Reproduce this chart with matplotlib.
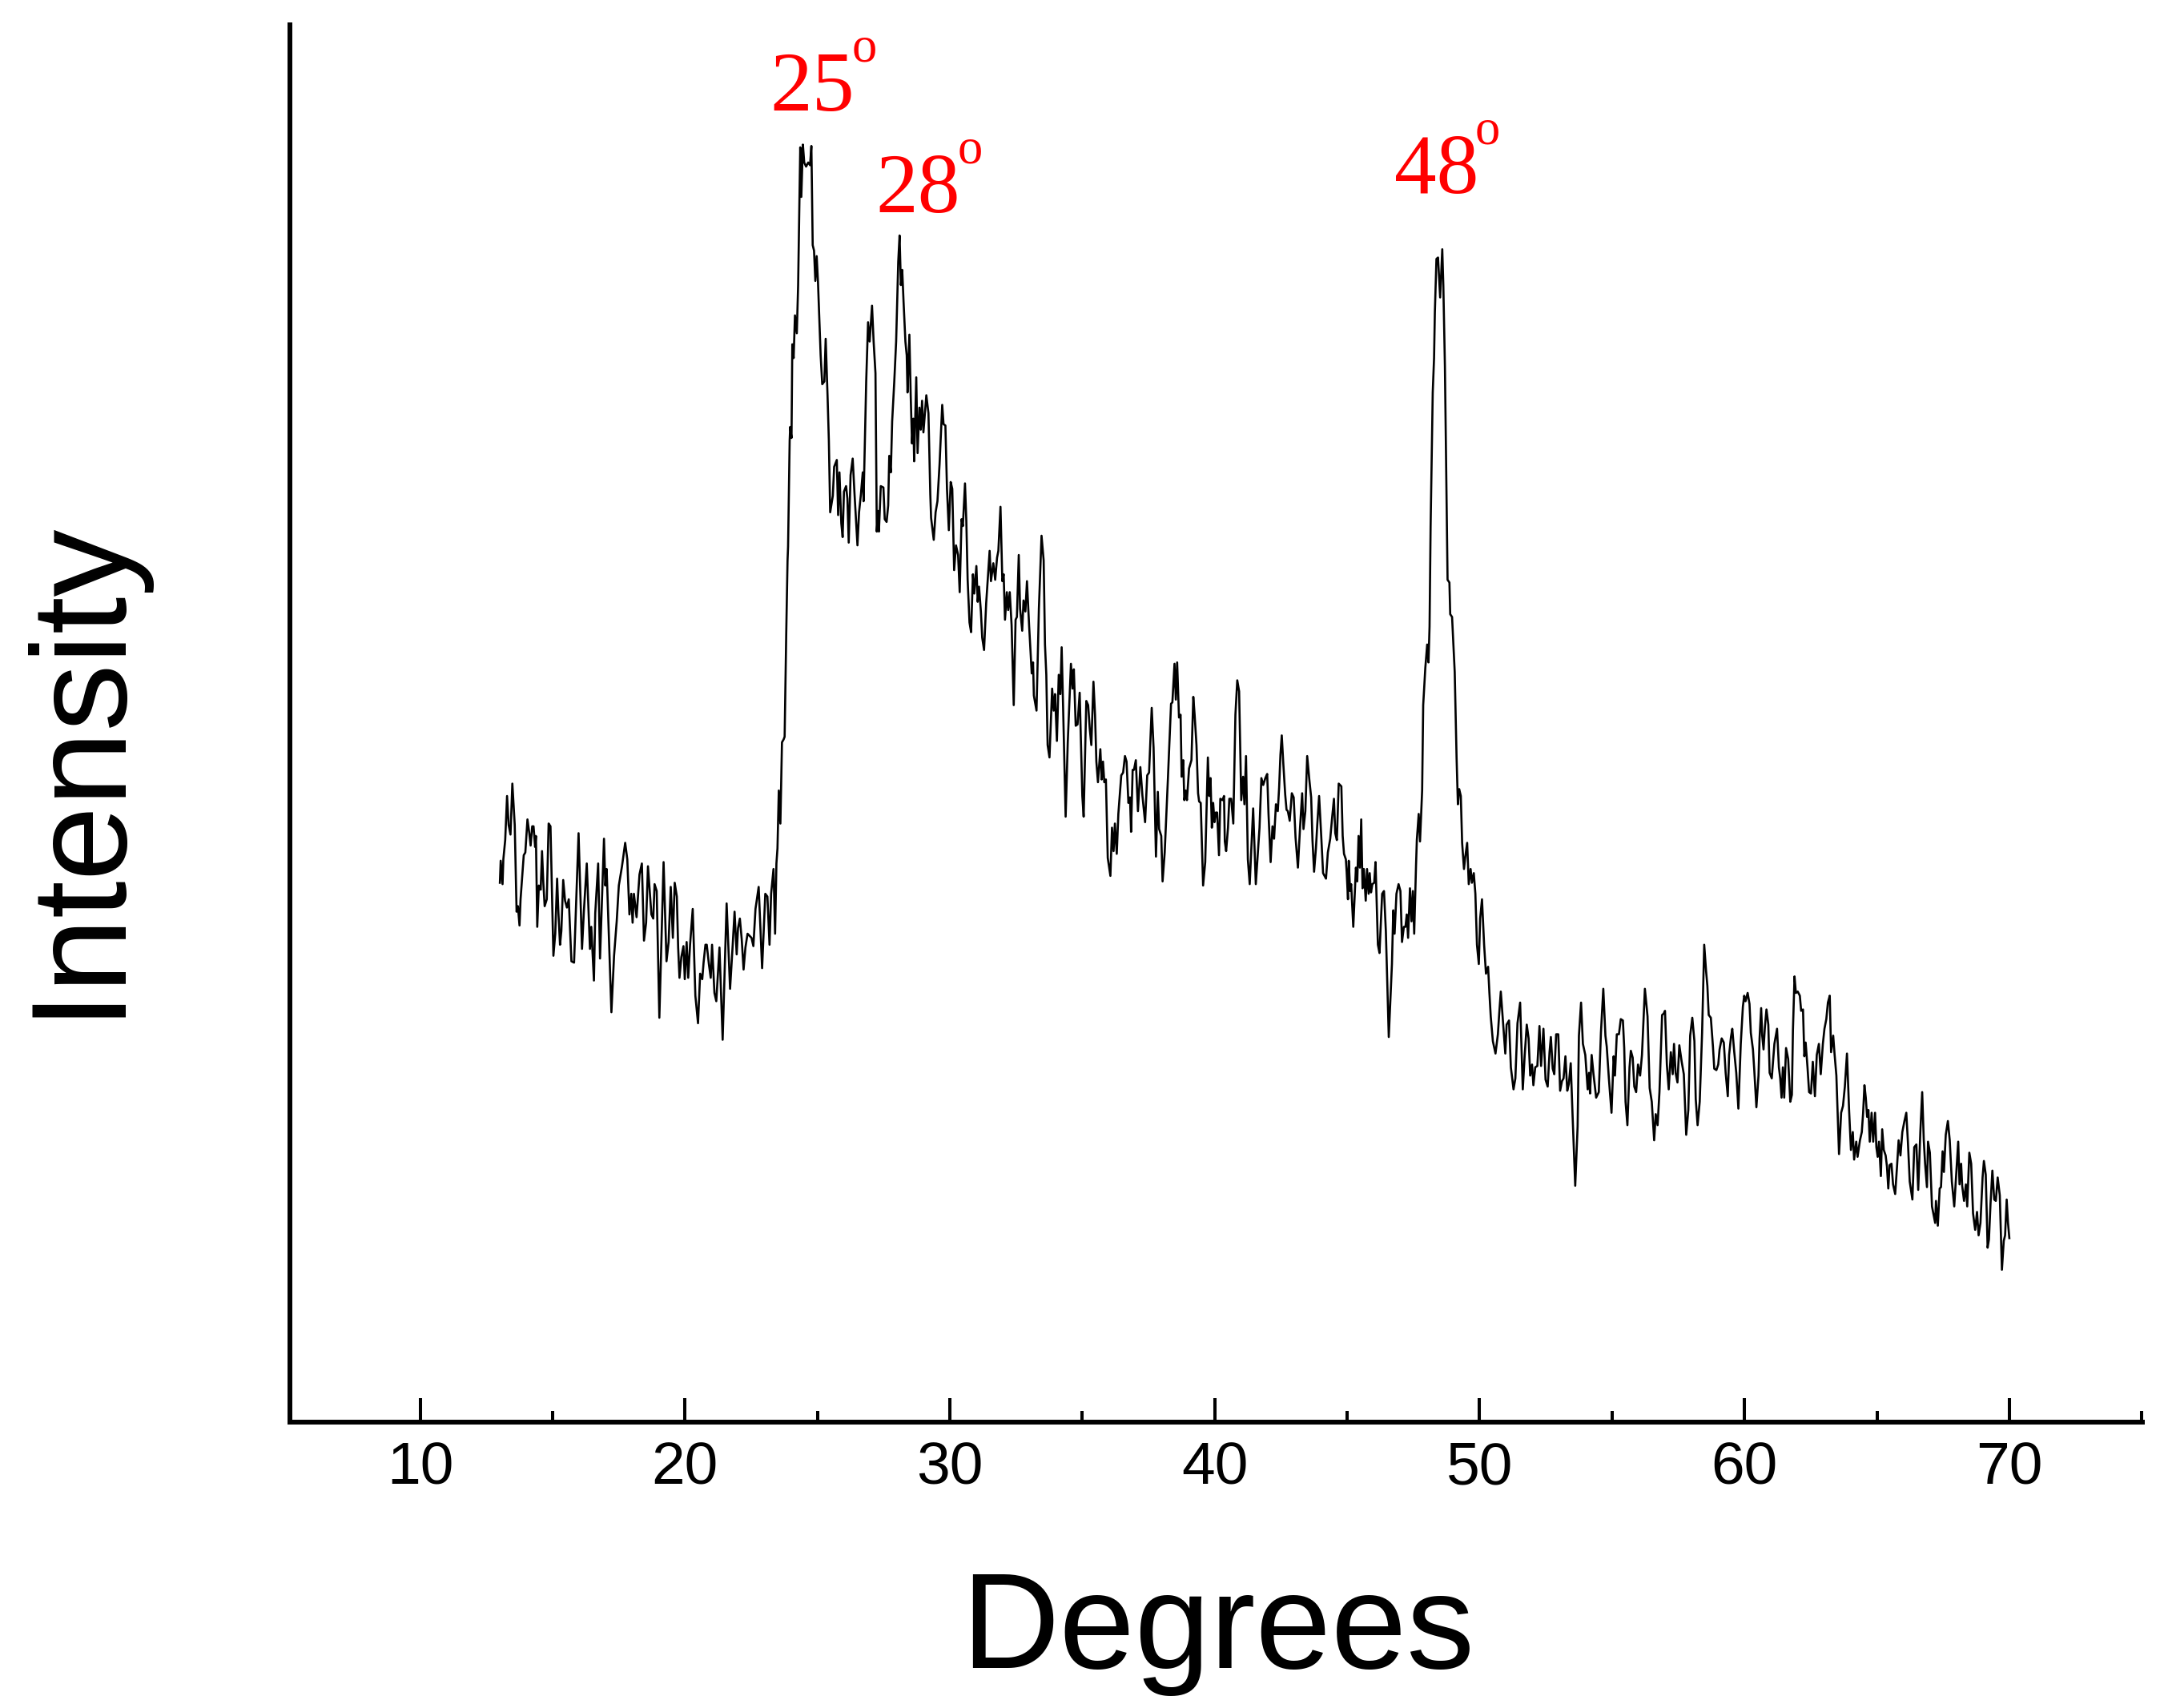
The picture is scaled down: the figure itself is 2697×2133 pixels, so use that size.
import matplotlib
matplotlib.use('Agg')
import matplotlib.pyplot as plt
from matplotlib.ticker import MultipleLocator
import numpy as np

# XRD trace, split into pieces (degrees, intensity in arb. units)
deg_a = [13.01, 13.04, 13.11, 13.14, 13.21, 13.28, 13.34, 13.41, 13.48, 13.57, 13.64, 13.69, 13.75, 13.79,
         13.91, 13.97, 14.05, 14.12, 14.17, 14.23, 14.28, 14.34, 14.37, 14.42, 14.48, 14.55, 14.60, 14.65,
         14.70, 14.78, 14.85, 14.92, 15.03, 15.10, 15.17, 15.22, 15.28, 15.33, 15.40, 15.47, 15.54, 15.61,
         15.71, 15.81, 15.98, 16.11, 16.18, 16.29, 16.36, 16.41, 16.46, 16.56, 16.61, 16.72, 16.79, 16.94,
         16.99, 17.04, 17.22, 17.32, 17.42, 17.50, 17.62, 17.74, 17.82, 17.90, 17.97, 18.02, 18.07, 18.17,
         18.28, 18.37, 18.45, 18.53, 18.60, 18.73, 18.80, 18.85, 18.93, 19.03, 19.19, 19.30, 19.38, 19.46,
         19.54, 19.61, 19.69, 19.74, 19.79, 19.86, 19.94, 19.99, 20.06, 20.12, 20.19, 20.29, 20.39, 20.49,
         20.57, 20.65, 20.70, 20.77, 20.82, 20.90, 20.97, 21.02, 21.11, 21.18, 21.30, 21.42, 21.57, 21.70,
         21.80, 21.87, 21.95, 22.00, 22.07, 22.14, 22.21, 22.28, 22.36, 22.51, 22.58, 22.66, 22.78, 22.91,
         23.03, 23.11, 23.19, 23.25, 23.34, 23.40, 23.45, 23.49, 23.54, 23.60, 23.66, 23.72]
int_a = [389, 405, 388, 406, 420, 452, 431, 424, 461, 431, 368, 372, 358, 377,
         409, 411, 435, 425, 416, 430, 430, 415, 423, 357, 387, 384, 412, 389,
         372, 377, 432, 430, 336, 352, 392, 367, 344, 354, 391, 376, 371, 377,
         332, 331, 425, 341, 368, 403, 367, 341, 357, 318, 367, 403, 334, 421,
         387, 399, 295, 336, 361, 387, 401, 418, 406, 366, 381, 360, 381, 364,
         395, 403, 347, 360, 401, 366, 363, 388, 383, 291, 404, 332, 346, 386,
         349, 389, 379, 342, 320, 335, 343, 319, 346, 320, 344, 370, 307, 287,
         323, 319, 331, 344, 344, 330, 320, 344, 309, 303, 342, 275, 374, 312,
         344, 368, 337, 356, 363, 348, 326, 342, 352, 349, 343, 370, 386, 327,
         381, 379, 344, 381, 399, 352, 403, 414, 456, 432, 491, 493]

deg_b = [23.76, 23.82, 23.87, 23.89, 23.95, 23.97, 24.02, 24.05, 24.10, 24.15, 24.22, 24.27, 24.35, 24.39,
         24.45, 24.50, 24.57, 24.65, 24.72, 24.77, 24.82, 24.87, 24.92, 24.97, 25.02, 25.12, 25.18, 25.26,
         25.31, 25.38, 25.43, 25.48, 25.58, 25.63, 25.73, 25.78, 25.83, 25.90, 25.95, 26.00, 26.08, 26.13,
         26.18, 26.25, 26.33, 26.40, 26.51, 26.57, 26.64, 26.71, 26.74, 26.84, 26.91, 26.97, 27.06, 27.12,
         27.19, 27.24, 27.29, 27.32, 27.39, 27.49, 27.54, 27.61, 27.67, 27.71, 27.77, 27.82, 27.90, 27.97,
         28.05, 28.10, 28.15, 28.20, 28.25, 28.32, 28.37, 28.40, 28.47, 28.52, 28.57, 28.62, 28.65, 28.73,
         28.78, 28.85, 28.90, 28.95, 29.00, 29.11, 29.19, 29.26, 29.29, 29.39, 29.46, 29.53, 29.61, 29.71,
         29.76, 29.83, 29.89, 29.96, 30.03, 30.09, 30.16, 30.23, 30.31, 30.37, 30.44, 30.49, 30.57, 30.62,
         30.67, 30.74, 30.80, 30.87, 30.92, 31.00, 31.05, 31.10, 31.17, 31.22, 31.29, 31.37, 31.42, 31.50,
         31.55, 31.64, 31.71, 31.78, 31.83, 31.91, 31.98, 32.03, 32.08, 32.15, 32.20, 32.26, 32.33, 32.41,
         32.48, 32.53, 32.60, 32.65, 32.73, 32.78, 32.85, 32.91, 32.99, 33.09, 33.14, 33.17, 33.27, 33.36,
         33.46, 33.54, 33.59, 33.64, 33.69, 33.76, 33.82, 33.86, 33.92, 33.97, 34.04, 34.11, 34.17, 34.22,
         34.27, 34.37, 34.45, 34.57, 34.63, 34.68, 34.75, 34.82, 34.90, 35.00, 35.05, 35.15, 35.22]
int_b = [495, 569, 623, 633, 710, 720, 712, 780, 770, 801, 788, 823, 923, 887,
         925, 912, 909, 912, 910, 924, 852, 848, 826, 844, 825, 772, 751, 753,
         784, 743, 710, 658, 670, 691, 696, 656, 687, 650, 640, 673, 677, 668,
         636, 685, 697, 671, 634, 658, 671, 687, 666, 753, 796, 782, 808, 782,
         759, 644, 659, 644, 677, 676, 653, 651, 663, 699, 687, 724, 753, 782,
         840, 859, 823, 834, 811, 782, 772, 745, 787, 743, 708, 726, 695, 756,
         701, 734, 718, 739, 716, 743, 730, 671, 654, 638, 658, 666, 693, 736,
         722, 721, 675, 645, 680, 675, 616, 634, 627, 600, 653, 648, 679, 652,
         609, 578, 571, 613, 599, 619, 593, 604, 586, 567, 558, 592, 607, 630,
         608, 621, 609, 625, 630, 662, 608, 613, 580, 600, 587, 600, 576, 518,
         580, 582, 627, 588, 572, 594, 586, 608, 576, 541, 549, 525, 514, 588,
         641, 623, 562, 540, 489, 480, 511, 530, 514, 526, 492, 540, 526, 560,
         520, 437, 491, 548, 530, 544, 503, 504, 527, 452, 437, 521, 518]

deg_c = [35.28, 35.34, 35.42, 35.48, 35.53, 35.59, 35.68, 35.73, 35.78, 35.83, 35.89, 35.96, 36.06, 36.12,
         36.18, 36.23, 36.30, 36.36, 36.47, 36.54, 36.61, 36.67, 36.74, 36.80, 36.84, 36.90, 36.95, 37.02,
         37.10, 37.19, 37.27, 37.37, 37.45, 37.52, 37.62, 37.69, 37.78, 37.85, 37.90, 37.98, 38.03, 38.11,
         38.23, 38.35, 38.40, 38.48, 38.53, 38.58, 38.65, 38.71, 38.75, 38.81, 38.85, 38.90, 38.95, 39.03,
         39.12, 39.19, 39.24, 39.31, 39.37, 39.41, 39.47, 39.56, 39.64, 39.74, 39.79, 39.84, 39.89, 39.94,
         39.99, 40.04, 40.09, 40.16, 40.21, 40.29, 40.35, 40.38, 40.43, 40.50, 40.55, 40.62, 40.70, 40.78,
         40.85, 40.92, 41.00, 41.07, 41.12, 41.18, 41.25, 41.32, 41.45, 41.55, 41.69, 41.76, 41.83, 41.91,
         41.98, 42.03, 42.11, 42.18, 42.24, 42.31, 42.38, 42.43, 42.48, 42.53, 42.59, 42.66, 42.71, 42.76,
         42.83, 42.91, 42.98, 43.05, 43.14, 43.22, 43.30, 43.35, 43.42, 43.49, 43.57, 43.64, 43.69, 43.75,
         43.82, 43.87, 43.94, 44.02, 44.09, 44.20, 44.27, 44.36, 44.43, 44.50, 44.55, 44.61]
int_c = [501, 489, 535, 511, 477, 462, 486, 464, 477, 462, 464, 407, 394, 429,
         412, 432, 410, 439, 467, 469, 481, 477, 447, 451, 426, 471, 471, 478,
         441, 473, 452, 433, 467, 469, 516, 487, 408, 455, 428, 423, 390, 411,
         464, 519, 520, 548, 522, 549, 509, 511, 466, 478, 449, 456, 449, 472,
         478, 524, 511, 489, 454, 448, 447, 387, 404, 480, 452, 465, 429, 447,
         433, 440, 440, 409, 450, 449, 452, 419, 412, 429, 450, 450, 432, 511,
         536, 528, 449, 466, 446, 481, 406, 388, 443, 388, 429, 465, 460, 465,
         468, 439, 404, 430, 421, 446, 441, 458, 482, 496, 475, 453, 442, 441,
         434, 454, 451, 422, 400, 429, 454, 428, 441, 481, 464, 451, 420, 397,
         414, 431, 452, 423, 396, 392, 411, 421, 436, 450, 425, 420]

deg_d = [44.68, 44.78, 44.83, 44.88, 44.95, 44.98, 45.03, 45.06, 45.11, 45.15, 45.23, 45.33, 45.38, 45.43,
         45.48, 45.53, 45.58, 45.63, 45.70, 45.75, 45.81, 45.85, 45.90, 45.95, 46.02, 46.07, 46.16, 46.22,
         46.32, 46.39, 46.46, 46.57, 46.69, 46.74, 46.79, 46.86, 46.94, 47.01, 47.07, 47.14, 47.20, 47.25,
         47.30, 47.37, 47.43, 47.48, 47.53, 47.60, 47.63, 47.70, 47.75, 47.83, 47.87, 47.95, 48.02, 48.07,
         48.11, 48.15, 48.23, 48.28, 48.31, 48.37, 48.43, 48.51, 48.59, 48.63, 48.69, 48.74, 48.79, 48.86,
         48.89, 48.96, 49.06, 49.13, 49.18, 49.23, 49.29, 49.34, 49.41, 49.46, 49.53, 49.59, 49.66, 49.71,
         49.78, 49.84, 49.90, 49.97, 50.02, 50.09, 50.17]
int_d = [461, 459, 423, 410, 406, 397, 377, 405, 383, 388, 357, 400, 390, 423,
         400, 435, 385, 399, 376, 399, 381, 396, 382, 388, 389, 404, 344, 338,
         381, 383, 354, 277, 330, 369, 352, 381, 388, 383, 346, 357, 357, 366,
         349, 385, 361, 383, 352, 402, 420, 439, 419, 456, 518, 545, 562, 549,
         575, 648, 745, 770, 803, 842, 843, 814, 849, 823, 764, 687, 609, 607,
         584, 582, 542, 480, 446, 457, 452, 418, 399, 408, 418, 388, 399, 389,
         396, 381, 344, 330, 363, 377, 344]

deg_e = [50.24, 50.32, 50.37, 50.42, 50.50, 50.60, 50.69, 50.74, 50.80, 50.90, 50.97, 51.02, 51.11, 51.18,
         51.28, 51.35, 51.43, 51.53, 51.63, 51.70, 51.78, 51.85, 51.91, 51.98, 52.03, 52.10, 52.18, 52.26,
         52.32, 52.41, 52.49, 52.57, 52.64, 52.69, 52.76, 52.82, 52.89, 52.97, 53.04, 53.11, 53.17, 53.24,
         53.31, 53.37, 53.44, 53.51, 53.61, 53.70, 53.75, 53.83, 53.90, 53.99, 54.08, 54.13, 54.17, 54.23,
         54.30, 54.40, 54.50, 54.58, 54.67, 54.75, 54.80, 54.88, 54.98, 55.06, 55.11, 55.18, 55.26, 55.33,
         55.41, 55.46, 55.51, 55.58, 55.66, 55.71, 55.78, 55.84, 55.91, 55.98, 56.06, 56.13, 56.24, 56.34,
         56.42, 56.50, 56.59, 56.65, 56.72, 56.79, 56.89, 56.95, 57.00, 57.07, 57.14, 57.22, 57.29, 57.34,
         57.40, 57.47, 57.54, 57.63, 57.71, 57.80, 57.88, 57.95, 58.03, 58.11, 58.16, 58.23, 58.31, 58.40,
         58.48, 58.55, 58.60, 58.65, 58.73, 58.81, 58.86, 58.94, 59.01, 59.06, 59.14, 59.22, 59.29, 59.37,
         59.42, 59.49, 59.54, 59.61, 59.69, 59.77]
int_e = [323, 328, 309, 292, 274, 265, 279, 294, 310, 284, 265, 286, 289, 255,
         239, 247, 287, 302, 239, 263, 286, 276, 249, 257, 242, 255, 256, 285,
         256, 283, 246, 241, 266, 277, 254, 250, 279, 279, 238, 245, 247, 263,
         238, 243, 258, 220, 169, 212, 278, 302, 272, 264, 239, 251, 236, 264,
         250, 233, 237, 280, 312, 278, 270, 247, 222, 263, 249, 279, 279, 290,
         289, 269, 230, 213, 255, 267, 262, 241, 237, 257, 249, 264, 312, 292,
         240, 230, 202, 221, 213, 237, 293, 294, 296, 257, 239, 266, 250, 272,
         251, 244, 271, 259, 250, 206, 224, 278, 291, 274, 232, 213, 230, 280,
         344, 325, 314, 293, 291, 270, 254, 253, 257, 268, 276, 273, 251, 234,
         264, 277, 283, 267, 251, 225]

deg_f = [59.86, 59.94, 59.99, 60.04, 60.12, 60.19, 60.24, 60.32, 60.37, 60.45, 60.53, 60.57, 60.63, 60.67,
         60.72, 60.77, 60.83, 60.90, 60.95, 61.03, 61.13, 61.23, 61.30, 61.35, 61.40, 61.45, 61.50, 61.57,
         61.65, 61.73, 61.79, 61.83, 61.89, 61.94, 62.01, 62.09, 62.14, 62.21, 62.26, 62.31, 62.38, 62.44,
         62.51, 62.58, 62.66, 62.73, 62.81, 62.88, 62.96, 63.02, 63.09, 63.15, 63.22, 63.27, 63.35, 63.40,
         63.47, 63.57, 63.65, 63.72, 63.79, 63.87, 63.95, 64.02, 64.09, 64.14, 64.22, 64.27, 64.36, 64.43,
         64.48, 64.53, 64.58, 64.63, 64.68, 64.73, 64.80, 64.86, 64.93, 64.98, 65.03, 65.08, 65.15, 65.20,
         65.26, 65.33, 65.38, 65.43, 65.48, 65.55, 65.61, 65.69, 65.76, 65.82, 65.89, 65.96, 66.04, 66.11,
         66.17, 66.24, 66.34, 66.41, 66.49, 66.56, 66.64, 66.71, 66.77, 66.82, 66.89, 66.93, 67.00, 67.08,
         67.13, 67.20, 67.23, 67.30, 67.37, 67.42, 67.48, 67.53, 67.60, 67.68, 67.75, 67.83, 67.92, 68.00,
         68.07, 68.12, 68.18, 68.22, 68.29, 68.36, 68.41, 68.49, 68.56, 68.63, 68.71, 68.78, 68.84, 68.91,
         68.99, 69.04, 69.11, 69.18, 69.23, 69.29, 69.36, 69.43, 69.49, 69.56, 69.64, 69.72, 69.79, 69.84,
         69.90, 69.95, 70.00]
int_f = [272, 299, 307, 303, 309, 301, 280, 268, 253, 226, 249, 276, 298, 278,
         268, 284, 297, 286, 251, 247, 272, 283, 255, 247, 233, 255, 233, 269,
         261, 230, 235, 282, 321, 309, 310, 307, 296, 297, 263, 273, 255, 237,
         236, 259, 234, 264, 272, 250, 272, 283, 290, 302, 307, 266, 278, 265,
         249, 192, 222, 227, 241, 265, 224, 195, 208, 188, 201, 190, 202, 208,
         222, 242, 233, 219, 224, 201, 222, 201, 222, 197, 190, 201, 176, 210,
         195, 191, 183, 167, 184, 185, 170, 163, 183, 202, 191, 208, 216, 222,
         201, 172, 159, 197, 199, 166, 208, 237, 202, 185, 168, 201, 193, 154,
         149, 142, 158, 140, 167, 168, 194, 179, 206, 216, 202, 172, 154, 179,
         201, 170, 185, 169, 158, 170, 154, 193, 185, 149, 137, 150, 133, 142,
         175, 187, 177, 124, 130, 156, 180, 159, 158, 175, 162, 108, 129, 133,
         159, 142, 131]

# peak annotations
peak_text = ['25', '28', '48']
peak_x = [23.22, 27.21, 46.77]
peak_y = [950, 876, 890]

deg = np.array(deg_a + deg_b + deg_c + deg_d + deg_e + deg_f)
inten = np.array(int_a + int_b + int_c + int_d + int_e + int_f)

plt.rcParams['font.family'] = ['Liberation Sans', 'DejaVu Sans']

fig = plt.figure(figsize=(26.97, 21.33), dpi=100)
ax = fig.add_axes([0.1342, 0.1674, 0.8576, 0.8181])

ax.plot(deg, inten, color='black', lw=1.9)

for t, x, y in zip(peak_text, peak_x, peak_y):
    ax.text(x, y, t, color='red', fontsize=76, family='Liberation Serif',
            ha='left', va='baseline')
    # small raised "o" used as the degree mark
    ax.annotate('o', xy=(x, y), xytext=(73, 44), textcoords='offset points',
                color='red', fontsize=45, family='Liberation Serif',
                ha='left', va='baseline')

ax.set_xlim(5.08, 75.02)
ax.set_ylim(-2.6, 1012)
ax.xaxis.set_major_locator(MultipleLocator(10))
ax.xaxis.set_minor_locator(MultipleLocator(5))
ax.set_yticks([])

for s in ['top', 'right']:
    ax.spines[s].set_visible(False)
for s in ['left', 'bottom']:
    ax.spines[s].set_linewidth(4.3)

ax.tick_params(axis='x', which='major', direction='in', length=21.6, width=2.9,
               labelsize=54, pad=17)
ax.tick_params(axis='x', which='minor', direction='in', length=10, width=2.9)

fig.text(0.0367, 0.551, 'Intensity', rotation=90, ha='center', va='center', fontsize=121)
fig.text(0.564, 0.0234, 'Degrees', ha='center', va='baseline', fontsize=122)

fig.savefig('out.png', dpi=100)
